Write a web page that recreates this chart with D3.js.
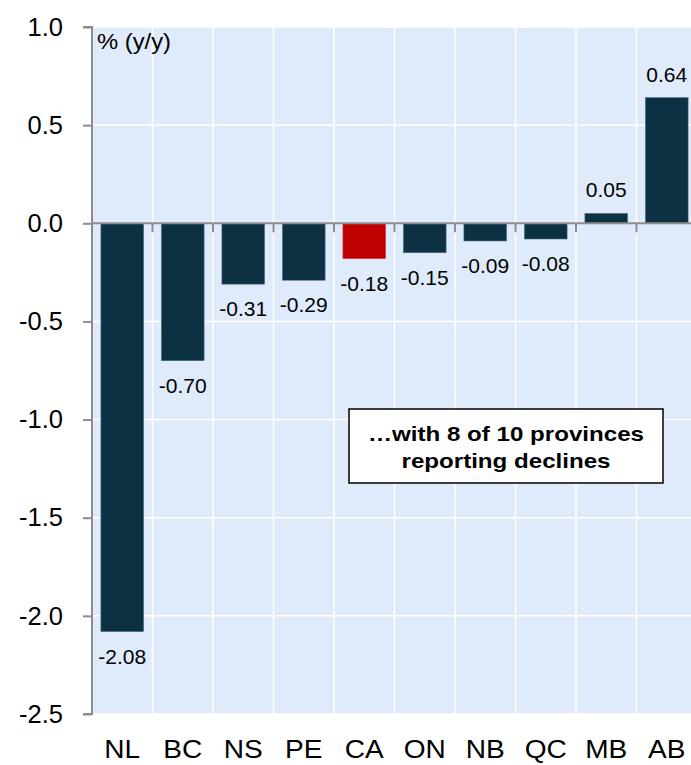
<!DOCTYPE html>
<html><head><meta charset="utf-8">
<script src="https://cdn.jsdelivr.net/npm/d3@7"></script>
<style>body{margin:0;background:#fff}svg{display:block;font-family:"Liberation Sans",Arial,sans-serif}</style>
</head><body>
<svg id="c" width="691" height="765"></svg>
<script>
const categories = ["NL","BC","NS","PE","CA","ON","NB","QC","MB","AB"];
const values = [-2.08,-0.70,-0.31,-0.29,-0.18,-0.15,-0.09,-0.08,0.05,0.64];
const valueLabels = ["-2.08","-0.70","-0.31","-0.29","-0.18","-0.15","-0.09","-0.08","0.05","0.64"];
const yTicks = [1.0,0.5,0.0,-0.5,-1.0,-1.5,-2.0,-2.5];
const highlight = "CA";
const unitLabel = "% (y/y)";
const noteLines = ["\u2026with 8 of 10 provinces","reporting declines"];

const svg = d3.select("#c");
const L = 92, R = 697, T = 27, B = 714;
const x = d3.scaleBand().domain(categories).range([L, R]).paddingInner(0.295).paddingOuter(0.1475);
const xb = d3.scaleBand().domain(categories).range([L, R]);
const y = d3.scaleLinear().domain([-2.5, 1.0]).range([B, T]);

svg.append("rect").attr("x", L).attr("y", T).attr("width", R - L).attr("height", B - T).attr("fill", "#dfeafb");

// gridlines
svg.append("g").selectAll("line").data(yTicks).join("line")
  .attr("x1", L).attr("x2", R).attr("y1", d => y(d)).attr("y2", d => y(d))
  .attr("stroke", "#fff").attr("stroke-width", 1.5);
svg.append("g").selectAll("line").data(categories.slice(1)).join("line")
  .attr("x1", d => xb(d)).attr("x2", d => xb(d)).attr("y1", T).attr("y2", B)
  .attr("stroke", "#fff").attr("stroke-width", 1.5);

// bars
svg.append("g").selectAll("rect").data(values).join("rect")
  .attr("x", (d, i) => x(categories[i]))
  .attr("width", x.bandwidth())
  .attr("y", d => y(Math.max(0, d)))
  .attr("height", d => Math.abs(y(d) - y(0)))
  .attr("fill", (d, i) => categories[i] === highlight ? "#c00000" : "#0c3142")
  .attr("stroke", (d, i) => categories[i] === highlight ? "#d04040" : "#4a6a7c")
  .attr("stroke-width", 0.6);

// value labels
svg.append("g").selectAll("text").data(values).join("text")
  .attr("x", (d, i) => x(categories[i]) + x.bandwidth() / 2)
  .attr("y", d => d >= 0 ? y(d) - 16 : y(d) + 32)
  .attr("text-anchor", "middle").attr("font-size", 21).attr("fill", "#000")
  .text((d, i) => valueLabels[i]);

// zero axis with tick marks at category boundaries
svg.append("line").attr("x1", L).attr("x2", R).attr("y1", y(0)).attr("y2", y(0))
  .attr("stroke", "#8c8c8c").attr("stroke-width", 2);
svg.append("g").selectAll("line").data(categories.slice(1)).join("line")
  .attr("x1", d => xb(d)).attr("x2", d => xb(d)).attr("y1", y(0)).attr("y2", y(0) + 9)
  .attr("stroke", "#8c8c8c").attr("stroke-width", 2);

// y axis
const yAxis = d3.axisLeft(y).tickValues(yTicks).tickFormat(d3.format(".1f")).tickSize(9).tickPadding(20);
const ya = svg.append("g").attr("transform", `translate(${L},0)`).call(yAxis);
ya.select(".domain").attr("stroke", "#8c8c8c").attr("stroke-width", 2).attr("d", `M-9,${T}H0V${B}H-9`);
ya.selectAll(".tick line").attr("stroke", "#8c8c8c").attr("stroke-width", 2);
ya.selectAll(".tick text").attr("font-size", 25.5).attr("fill", "#000").attr("font-family", "Liberation Sans, Arial, sans-serif")
  .text(d => d3.format(".1f")(d).replace("\u2212", "-"));

// x labels
svg.append("g").selectAll("text").data(categories).join("text")
  .attr("x", d => xb(d) + xb.bandwidth() / 2).attr("y", 758)
  .attr("text-anchor", "middle").attr("font-size", 26).attr("fill", "#000")
  .attr("transform", d => `translate(${xb(d) + xb.bandwidth() / 2},0) scale(1.08,1) translate(${-(xb(d) + xb.bandwidth() / 2)},0)`)
  .text(d => d);

// unit label
svg.append("text").attr("x", 97).attr("y", 49).attr("font-size", 22).attr("fill", "#000")
  .attr("textLength", 74).attr("lengthAdjust", "spacingAndGlyphs").text(unitLabel);

// annotation box
svg.append("rect").attr("x", 349).attr("y", 409).attr("width", 314).attr("height", 74)
  .attr("fill", "#fff").attr("stroke", "#000").attr("stroke-width", 1.5);
const noteWidths = [276, 209];
svg.append("g").selectAll("text").data(noteLines).join("text")
  .attr("x", (d, i) => 506 - noteWidths[i] / 2).attr("y", (d, i) => 441 + i * 27)
  .attr("font-size", 21).attr("font-weight", "bold").attr("fill", "#000")
  .attr("textLength", (d, i) => noteWidths[i]).attr("lengthAdjust", "spacingAndGlyphs")
  .text(d => d);
</script>
</body></html>
